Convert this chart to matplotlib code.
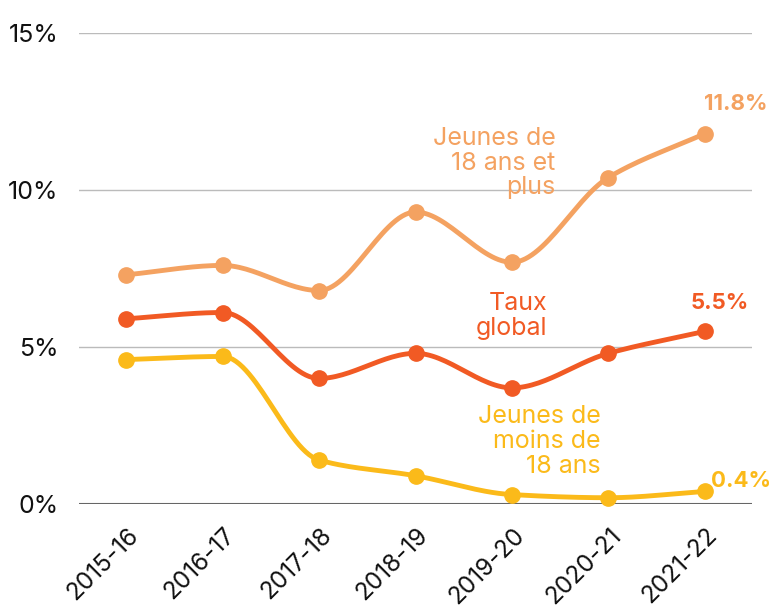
import numpy as np
import matplotlib
matplotlib.use('Agg')
import matplotlib.pyplot as plt
from matplotlib.ticker import FuncFormatter
from matplotlib.transforms import ScaledTranslation

plt.rcParams['font.family'] = ['Inter', 'DejaVu Sans']

years = ['2015-16', '2016-17', '2017-18', '2018-19', '2019-20', '2020-21', '2021-22']
jeunes_18_plus = [7.3, 7.6, 6.8, 9.3, 7.7, 10.4, 11.8]
taux_global = [5.9, 6.1, 4.0, 4.8, 3.7, 4.8, 5.5]
jeunes_moins_18 = [4.6, 4.7, 1.4, 0.9, 0.3, 0.2, 0.4]

c_plus = '#F4A261'
c_global = '#F15A24'
c_moins = '#FBBA1A'


def monotone_curve(x, y, n=30):
    # monotone cubic (Fritsch-Carlson), just for drawing a smooth line
    x = np.asarray(x, float)
    y = np.asarray(y, float)
    h = np.diff(x)
    d = np.diff(y) / h
    m = np.zeros_like(y)
    m[0], m[-1] = d[0], d[-1]
    for i in range(1, len(y) - 1):
        if d[i - 1] * d[i] <= 0:
            m[i] = 0
        else:
            m[i] = 3 * (h[i - 1] + h[i]) / ((2 * h[i] + h[i - 1]) / d[i - 1] + (h[i] + 2 * h[i - 1]) / d[i])
    xs, ys = [], []
    for i in range(len(y) - 1):
        t = np.linspace(0, 1, n)
        h00 = 2 * t**3 - 3 * t**2 + 1
        h10 = t**3 - 2 * t**2 + t
        h01 = -2 * t**3 + 3 * t**2
        h11 = t**3 - t**2
        xs.append(x[i] + t * h[i])
        ys.append(h00 * y[i] + h10 * h[i] * m[i] + h01 * y[i + 1] + h11 * h[i] * m[i + 1])
    return np.concatenate(xs), np.concatenate(ys)


fig = plt.figure(figsize=(7.69, 6.13), dpi=100)
ax = fig.add_axes([0.1027, 0.1778, 0.8753, 0.7682])

xpos = np.arange(len(years))
for vals, col in [(jeunes_moins_18, c_moins), (jeunes_18_plus, c_plus), (taux_global, c_global)]:
    sx, sy = monotone_curve(xpos, vals)
    ax.plot(sx, sy, color=col, lw=3.5, solid_capstyle='round', zorder=3, clip_on=False)
    ax.plot(xpos, vals, 'o', color=col, ms=11, zorder=4, clip_on=False)

ax.set_xlim(-0.49, 6.49)
ax.set_ylim(0, 15)
ax.set_yticks([0, 5, 10, 15])
ax.yaxis.set_major_formatter(FuncFormatter(lambda v, p: f'{v:.0f}%'))
ax.grid(axis='y', color='#BBBBBB', lw=1)
ax.axhline(0, color='#666666', lw=1.5, zorder=2)
ax.set_axisbelow(True)
for s in ax.spines.values():
    s.set_visible(False)
ax.tick_params(axis='y', length=0, pad=15, labelsize=18, labelcolor='#111111')
ax.tick_params(axis='x', length=0, pad=20, labelsize=17.5, labelcolor='#111111')
ax.set_xticks(xpos)
ax.set_xticklabels(years, rotation=45, ha='right', va='center', rotation_mode='anchor')
offset = ScaledTranslation(0.09, 0, fig.dpi_scale_trans)
for lbl in ax.get_xticklabels():
    lbl.set_transform(lbl.get_transform() + offset)

ax.text(4.45, 10.86, 'Jeunes de\n18 ans et\nplus', color=c_plus, fontsize=18,
        ha='right', va='center', linespacing=1.1)
ax.text(4.37, 6.0, 'Taux\nglobal', color=c_global, fontsize=18,
        ha='right', va='center', linespacing=1.1)
ax.text(4.92, 2.0, 'Jeunes de\nmoins de\n18 ans', color=c_moins, fontsize=18,
        ha='right', va='center', linespacing=1.1)

ax.text(6.32, 12.75, '11.8%', color=c_plus, fontsize=16, fontweight='bold', ha='center', va='center')
ax.text(6.15, 6.4, '5.5%', color=c_global, fontsize=16, fontweight='bold', ha='center', va='center')
ax.text(6.37, 0.72, '0.4%', color=c_moins, fontsize=16, fontweight='bold', ha='center', va='center')

fig.savefig('out.png', dpi=100)
